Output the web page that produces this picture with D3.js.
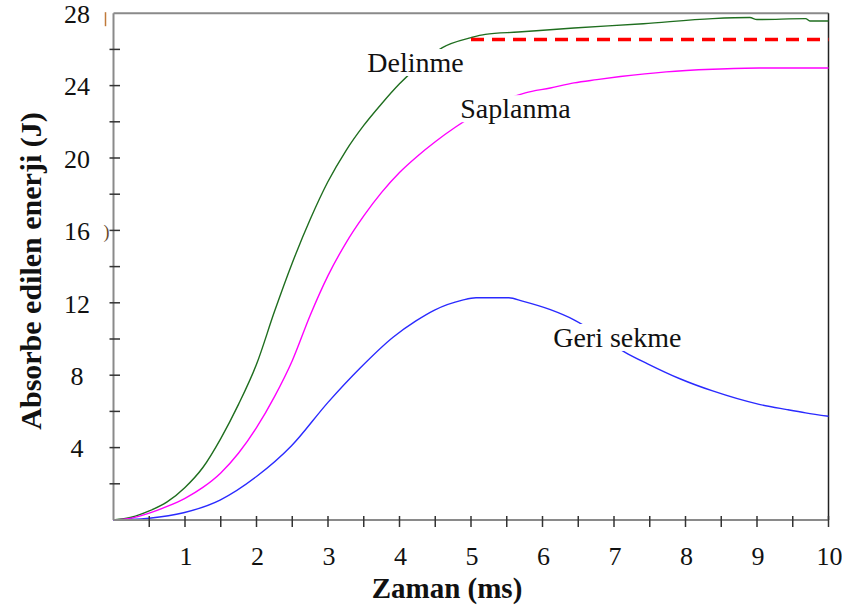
<!DOCTYPE html>
<html>
<head>
<meta charset="utf-8">
<script src="https://cdn.jsdelivr.net/npm/d3@7"></script>
<style>
  html, body { margin: 0; padding: 0; background: #fff; }
  svg { display: block; }
</style>
</head>
<body>
<svg id="chart" width="842" height="610"></svg>
<script>
// ---- data (time in ms, absorbed energy in J) ----
const delinmeT = [0, 0.25, 0.5, 0.75, 1.0, 1.25, 1.5, 1.75, 2.0, 2.25, 2.5, 2.75, 3.0, 3.25, 3.5, 3.75, 4.0, 4.3, 4.6, 5.0, 5.2, 5.66, 6.44, 7.41, 8.38, 8.9, 9.0, 9.68, 9.74, 10];
const delinmeV = [0, 0.15, 0.5, 1.0, 1.8, 2.9, 4.5, 6.4, 8.6, 11.5, 14.2, 16.6, 18.7, 20.4, 21.8, 23.0, 24.1, 25.2, 26.1, 26.65, 26.83, 26.96, 27.18, 27.42, 27.7, 27.76, 27.65, 27.7, 27.57, 27.57];

const saplanmaT = [0, 0.25, 0.5, 0.75, 1.0, 1.25, 1.5, 1.75, 2.0, 2.25, 2.5, 2.75, 3.0, 3.25, 3.5, 3.75, 4.0, 4.25, 4.5, 4.78, 5.2, 5.76, 6.11, 6.44, 6.76, 7.09, 7.73, 8.38, 9.03, 10];
const saplanmaV = [0, 0.1, 0.38, 0.75, 1.2, 1.8, 2.6, 3.7, 5.1, 6.8, 8.8, 11.3, 13.5, 15.3, 16.8, 18.1, 19.2, 20.1, 20.9, 21.7, 22.7, 23.6, 23.87, 24.15, 24.33, 24.5, 24.76, 24.9, 24.97, 24.97];

const geriT = [0, 0.25, 0.5, 0.98, 1.49, 2.0, 2.49, 3.0, 3.45, 3.91, 4.23, 4.49, 4.88, 5.07, 5.53, 5.72, 6.11, 6.44, 6.8, 7.15, 7.47, 7.93, 8.38, 9.03, 9.42, 9.68, 10];
const geriV = [0, 0.03, 0.1, 0.4, 1.1, 2.4, 4.1, 6.5, 8.4, 10.1, 11.0, 11.6, 12.15, 12.28, 12.28, 12.09, 11.62, 11.06, 10.2, 9.28, 8.63, 7.79, 7.13, 6.39, 6.1, 5.92, 5.73];

const limitT = [5.0, 10];
const limitV = [26.55, 26.55];

const xTickValues = [1, 2, 3, 4, 5, 6, 7, 8, 9, 10];
const yTickValues = [4, 8, 12, 16, 20, 24, 28];
const xMinorTicks = d3.range(0.5, 10.01, 0.5);
const yMinorTicks = d3.range(2, 26.01, 2);

const labelNames = ["Delinme", "Saplanma", "Geri sekme"];
const labelT = [3.55, 4.85, 6.15];
const labelV = [24.75, 22.2, 9.56];

// ---- scales ----
const svg = d3.select("#chart");
const x = d3.scaleLinear().domain([0, 10]).range([113.5, 828.5]);
const y = d3.scaleLinear().domain([0, 28]).range([520, 13.2]);
const serif = "'Liberation Serif', 'Times New Roman', serif";

const zip = (ts, vs) => ts.map((t, i) => ({ t, v: vs[i] }));
const line = d3.line().x(d => x(d.t)).y(d => y(d.v)).curve(d3.curveMonotoneX);

// frame: top and right
svg.append("line").attr("x1", x(0)).attr("x2", x(10)).attr("y1", y(28)).attr("y2", y(28))
  .attr("stroke", "#8a8a8a").attr("stroke-width", 2);
svg.append("line").attr("x1", x(10)).attr("x2", x(10)).attr("y1", y(28)).attr("y2", y(0))
  .attr("stroke", "#222").attr("stroke-width", 1.5);

// series
const series = [
  { data: zip(delinmeT, delinmeV), color: "#1f6e1f" },
  { data: zip(saplanmaT, saplanmaV), color: "#ff00ff" },
  { data: zip(geriT, geriV), color: "#2a2aff" }
];
series.forEach(s => {
  svg.append("path").datum(s.data).attr("d", line)
    .attr("fill", "none").attr("stroke", s.color).attr("stroke-width", 1.4);
});

// red dashed limit
svg.append("path").datum(zip(limitT, limitV))
  .attr("d", d3.line().x(d => x(d.t)).y(d => y(d.v)))
  .attr("fill", "none").attr("stroke", "#ff0000").attr("stroke-width", 3.5)
  .attr("stroke-dasharray", "13,8");

// labels with white background (break the curves)
labelNames.forEach((name, i) => {
  const g = svg.append("g");
  const rect = g.append("rect").attr("fill", "#fff");
  const txt = g.append("text").attr("x", x(labelT[i])).attr("y", y(labelV[i]))
    .attr("font-family", serif).attr("font-size", 28).attr("fill", "#111").text(name);
  const bb = txt.node().getBBox();
  rect.attr("x", bb.x - 1).attr("y", bb.y + 2).attr("width", bb.width + 2).attr("height", bb.height - 4);
});

// axes
const yAxisG = svg.append("g");
yAxisG.append("line").attr("x1", x(0)).attr("x2", x(0)).attr("y1", y(28)).attr("y2", y(0))
  .attr("stroke", "#8a8a8a").attr("stroke-width", 2);
yAxisG.selectAll("line.tick").data(yMinorTicks).enter().append("line").attr("class", "tick")
  .attr("x1", x(0) - 4).attr("x2", x(0) + 6.5).attr("y1", d => y(d)).attr("y2", d => y(d))
  .attr("stroke", "#333").attr("stroke-width", 1.5);
yAxisG.selectAll("text").data(yTickValues).enter().append("text")
  .attr("x", 77).attr("y", d => y(d)).attr("dy", "0.38em").attr("text-anchor", "middle")
  .attr("font-family", serif).attr("font-size", 26).attr("fill", "#111").text(d => d);
// small stray marks next to the axis in the original scan
yAxisG.append("line").attr("x1", x(0) - 8).attr("x2", x(0) - 8).attr("y1", y(28) - 1).attr("y2", y(28) + 13)
  .attr("stroke", "#c07a3a").attr("stroke-width", 1.5);
yAxisG.append("text").attr("x", x(0) - 10).attr("y", y(16)).attr("dy", "0.4em")
  .attr("font-family", serif).attr("font-size", 18).attr("fill", "#6a4a2a").text(")");

const xAxisG = svg.append("g");
xAxisG.append("line").attr("x1", x(0)).attr("x2", x(10)).attr("y1", y(0)).attr("y2", y(0))
  .attr("stroke", "#8a8a8a").attr("stroke-width", 2);
xAxisG.selectAll("line.tick").data(xMinorTicks).enter().append("line").attr("class", "tick")
  .attr("x1", d => x(d)).attr("x2", d => x(d)).attr("y1", y(0) - 4).attr("y2", y(0) + 7)
  .attr("stroke", "#333").attr("stroke-width", 1.5);
xAxisG.selectAll("text").data(xTickValues).enter().append("text")
  .attr("x", d => x(d) + 1).attr("y", 565).attr("text-anchor", "middle")
  .attr("font-family", serif).attr("font-size", 26).attr("fill", "#111").text(d => d);

// axis titles
svg.append("text").attr("x", 447).attr("y", 598).attr("text-anchor", "middle")
  .attr("font-family", serif).attr("font-size", 29)
  .attr("font-weight", "bold").attr("fill", "#111").text("Zaman (ms)");
svg.append("text").attr("transform", "translate(41,271) rotate(-90)").attr("text-anchor", "middle")
  .attr("font-family", serif).attr("font-size", 30)
  .attr("font-weight", "bold").attr("fill", "#111").text("Absorbe edilen enerji (J)");
</script>
</body>
</html>
